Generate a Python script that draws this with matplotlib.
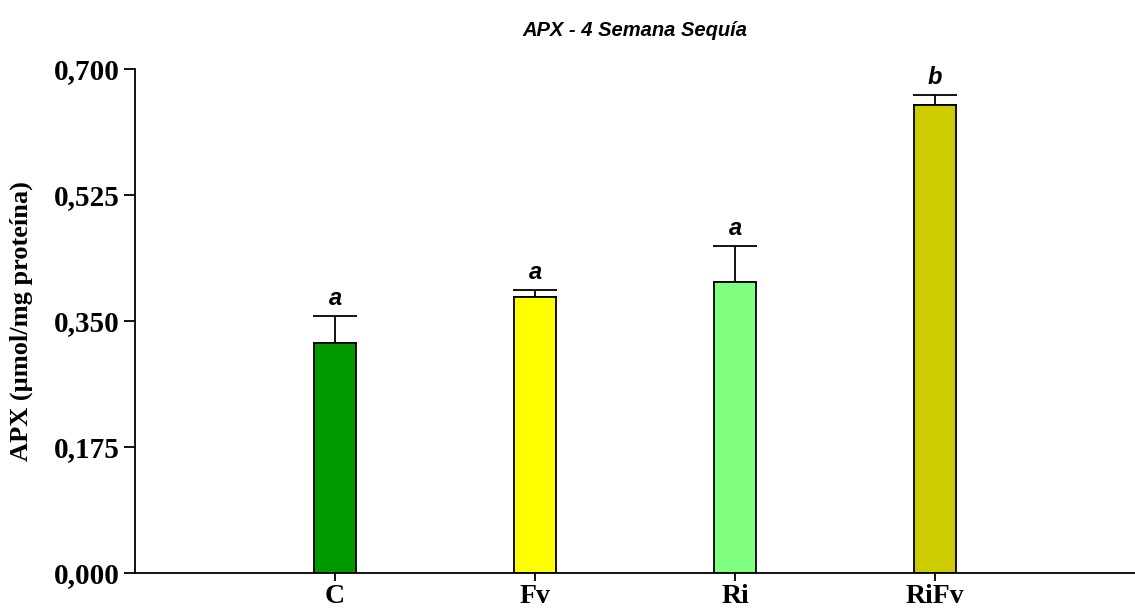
import numpy as np
import matplotlib.pyplot as plt

# APX activity, 4th week of drought
grupos = ['C', 'Fv', 'Ri', 'RiFv']
medias = [0.319, 0.383, 0.404, 0.650]
errores = [0.038, 0.010, 0.050, 0.014]
letras = ['a', 'a', 'a', 'b']
colores = ['#009900', '#FFFF00', '#80FF80', '#CCCC00']
yticks = [0.0, 0.175, 0.350, 0.525, 0.700]

fig = plt.figure(figsize=(11.35, 6.10), dpi=100)
ax = fig.add_axes([135/1135, 37/610, 1000/1135, 504/610])

X = np.arange(1, len(grupos) + 1)
# only the upper whisker shows; the lower cap stays hidden behind the bar
ax.errorbar(X, medias, yerr=[np.zeros(len(errores)), errores], fmt='none',
            ecolor='black', elinewidth=1.3, capsize=15.5, capthick=1.3, zorder=1)
ax.bar(X, medias, width=0.21, color=colores, edgecolor='black', linewidth=1.3, zorder=2)

for x, m, e, l in zip(X, medias, errores, letras):
    ax.text(x, m + e + 0.008, l, ha='center', va='bottom', fontsize=17,
            fontweight='bold', fontstyle='italic', family='Liberation Sans')

ax.set_xlim(0, 5)
ax.set_ylim(0, 0.7)
ax.set_xticks(X)
ax.set_xticklabels(grupos, fontsize=20, fontweight='bold', family='Liberation Serif')
ax.set_yticks(yticks)
ax.set_yticklabels([('%.3f' % v).replace('.', ',') for v in yticks],
                   fontsize=21, fontweight='bold', family='Liberation Serif')
ax.tick_params(axis='y', direction='out', length=8, width=1.3, pad=3)
ax.tick_params(axis='x', direction='out', length=6, width=1.3, pad=2)

ax.spines['top'].set_visible(False)
ax.spines['right'].set_visible(False)
ax.spines['left'].set_linewidth(1.3)
ax.spines['bottom'].set_linewidth(1.3)

ax.set_ylabel('APX (µmol/mg proteína)', fontsize=19, fontweight='bold',
              family='Liberation Serif', labelpad=15)
ax.set_title('APX - 4 Semana Sequía', fontsize=14.5, fontweight='bold',
             fontstyle='italic', family='Liberation Sans', pad=24)

plt.savefig('out.png', dpi=100)
